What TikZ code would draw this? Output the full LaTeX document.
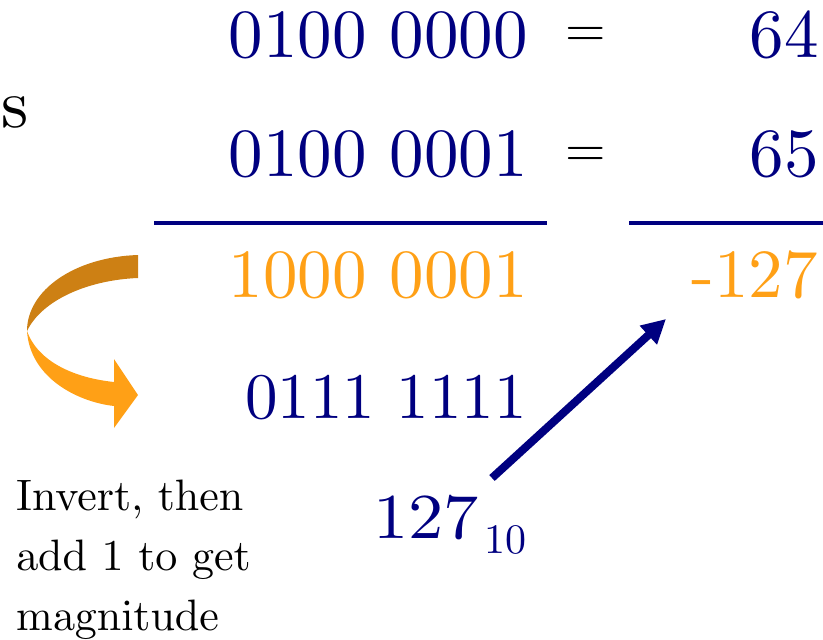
\documentclass[tikz,border=0pt]{standalone}
\usepackage{graphicx}
\usetikzlibrary{arrows.meta}
\definecolor{navy}{RGB}{0,0,128}
\definecolor{orng}{RGB}{255,160,22}
\definecolor{dorng}{RGB}{205,128,20}
\font\fbig=cmr10 at 69pt
\font\fbin=cmr10 at 65pt
\font\fmid=cmr10 at 64pt
\font\fsub=cmr10 at 42pt
\font\feq=cmr10 at 52pt
\font\fnote=cmr10 at 44pt
\tikzset{
  big/.style={inner sep=0pt, font=\fbig},
  bignavy/.style={big, text=navy},
  bigorng/.style={big, text=orng},
  eqs/.style={inner sep=0pt, font=\feq, text=black},
  rule/.style={draw=navy, line width=4pt},
  bluearrow/.style={draw=navy, line width=8pt, -{Triangle[length=24pt,width=24pt]}},
}
\begin{document}
\begin{tikzpicture}[x=1pt,y=-1pt]
\useasboundingbox (0,0) rectangle (823,640);
% left cut-off letter
\node[big, anchor=base west] (s) at (1,127) {s};
% rows
\node[bignavy, anchor=base east] (r1) at (528,57) {0100 0000};
\node[eqs, anchor=base] (e1) at (585.5,46) {=};
\node[bignavy, anchor=base east] (v1) at (819,57) {64};
\node[bignavy, anchor=base east] (r2) at (528,176) {0100 0001};
\node[eqs, anchor=base] (e2) at (585.5,166) {=};
\node[bignavy, anchor=base east] (v2) at (819,176) {65};
% rules
\draw[rule] (154,223) -- (547,223);
\draw[rule] (629,223) -- (823,223);
% result
\node[bigorng, anchor=base east] (r3) at (528,297) {1000 0001};
\node[bigorng, anchor=base east] (v3) at (818,297) {-127};
\node[bignavy, font=\fbin, anchor=base east] (r4) at (527,418) {0111 1111};
\node[inner sep=0pt, text=navy, anchor=base west, font=\fmid] (n127) at (373,538) {\scalebox{1.1}[1]{127}};
\node[inner sep=0pt, text=navy, anchor=base west, font=\fsub] (n10) at (484,553) {10};
% arrow
\coordinate (a1) at (492,478);
\coordinate (a2) at (666,319);
\draw[bluearrow] (a1) -- (a2);
% curved arrow (ribbon)
\fill[dorng] (138,255) .. controls (75,257) and (27,290) .. (27,331)
  .. controls (42,300) and (88,280) .. (138,278) -- cycle;
\fill[orng] (27,331) .. controls (30,378) and (78,402) .. (114,406)
  -- (114,428) -- (138,395) -- (114,359) -- (114,382)
  .. controls (75,378) and (38,362) .. (27,331) -- cycle;
% note
\node[inner sep=0pt, anchor=base west, align=left, font={\fnote\baselineskip=60pt}] (note) at (16,630)
  {Invert, then\\add 1 to get\\magnitude};
\end{tikzpicture}
\end{document}
